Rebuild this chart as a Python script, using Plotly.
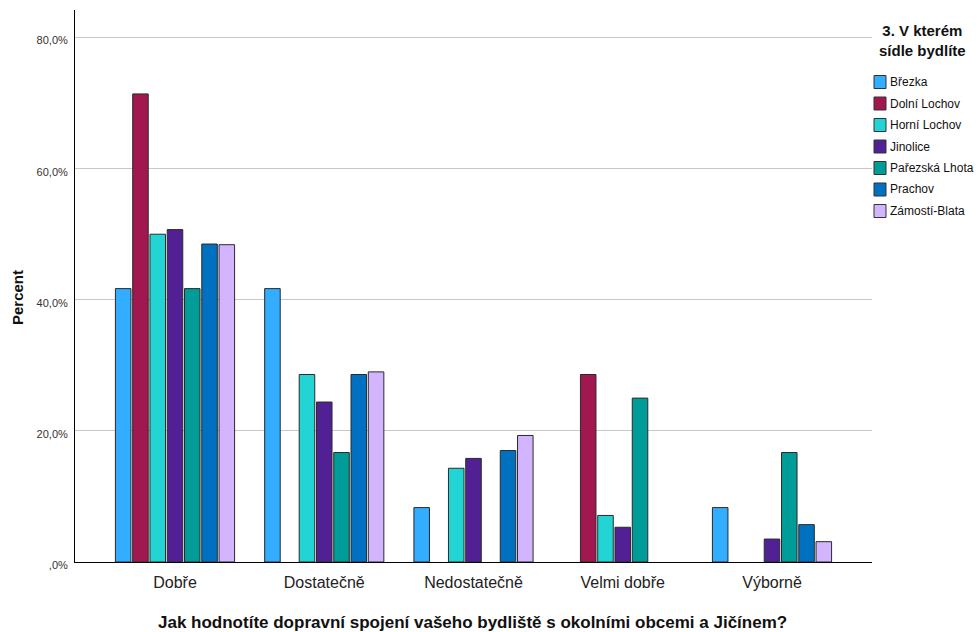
import plotly.graph_objects as go

categories = ["Dobře", "Dostatečně", "Nedostatečně", "Velmi dobře", "Výborně"]
series_names = ["Březka", "Dolní Lochov", "Horní Lochov", "Jinolice",
                "Pařezská Lhota", "Prachov", "Zámostí-Blata"]
brezka = [41.7, 41.7, 8.3, 0, 8.3]
dolni_lochov = [71.4, 0, 0, 28.6, 0]
horni_lochov = [50.0, 28.6, 14.3, 7.1, 0]
jinolice = [50.7, 24.4, 15.8, 5.3, 3.5]
parezska_lhota = [41.7, 16.7, 0, 25.0, 16.7]
prachov = [48.5, 28.6, 17.0, 0, 5.7]
zamosti_blata = [48.4, 29.0, 19.3, 0, 3.1]
colors = ["#33adff", "#a0184f", "#22d4d4", "#512095", "#009c98", "#0070c0", "#d2b4ff"]
y_tickvals = [0, 20, 40, 60, 80]
y_ticktext = [",0%", "20,0%", "40,0%", "60,0%", "80,0%"]
x_title = "Jak hodnotíte dopravní spojení vašeho bydliště s okolními obcemi a Jičínem?"
y_title = "Percent"
legend_title = "3. V kterém<br>sídle bydlíte"

all_values = [brezka, dolni_lochov, horni_lochov, jinolice,
              parezska_lhota, prachov, zamosti_blata]

FONT = "Liberation Sans, Arial, sans-serif"
W, H = 978, 632
ML, MR, MT, MB = 75, 106, 10, 70
PW, PH = W - ML - MR, H - MT - MB

def px_x(px):
    return (px - ML) / PW

def px_y(py):
    return (H - MB - py) / PH

fig = go.Figure()
for name, vals, col in zip(series_names, all_values, colors):
    fig.add_trace(go.Bar(
        x=categories,
        y=[v if v else None for v in vals],
        name=name,
        marker=dict(color=col, line=dict(color="#2a2a2a", width=1)),
        showlegend=False,
    ))

# manual legend
fig.add_annotation(
    x=px_x(922), y=px_y(40), xref="paper", yref="paper",
    text="<b>" + legend_title + "</b>", showarrow=False,
    font=dict(family=FONT, size=15, color="#111"), align="center",
    xanchor="center", yanchor="middle",
)
for i, (name, col) in enumerate(zip(series_names, colors)):
    cy = 82 + 21.5 * i
    fig.add_shape(type="rect", xref="paper", yref="paper",
                  x0=px_x(874), x1=px_x(886), y0=px_y(cy - 6.5), y1=px_y(cy + 6.5),
                  fillcolor=col, line=dict(color="#333", width=1))
    fig.add_annotation(x=px_x(888), y=px_y(cy), xref="paper", yref="paper",
                       text=name, showarrow=False, xanchor="left", yanchor="middle",
                       font=dict(family=FONT, size=12, color="#111"))

# axis titles
fig.add_annotation(x=px_x(472), y=px_y(622), xref="paper", yref="paper",
                   text="<b>" + x_title + "</b>", showarrow=False,
                   xanchor="center", yanchor="middle",
                   font=dict(family=FONT, size=17, color="#111"))
fig.add_annotation(x=px_x(17), y=px_y(298), xref="paper", yref="paper",
                   text="<b>" + y_title + "</b>", showarrow=False, textangle=-90,
                   xanchor="center", yanchor="middle",
                   font=dict(family=FONT, size=15, color="#111"))

fig.update_layout(
    width=W, height=H,
    margin=dict(l=ML, r=MR, t=MT, b=MB, autoexpand=False),
    paper_bgcolor="white", plot_bgcolor="white",
    barmode="group", bargap=0.19, bargroupgap=0.1,
    font=dict(family=FONT, color="#222"),
    showlegend=False,
)
fig.update_xaxes(
    range=[-0.67, 4.67], showline=True, linecolor="black", linewidth=1,
    ticks="", showgrid=False, tickfont=dict(size=16, color="#222"),
    ticklabelstandoff=6, automargin=False,
)
fig.update_yaxes(
    range=[0, 84.2], tickvals=y_tickvals, ticktext=y_ticktext,
    showline=True, linecolor="black", linewidth=1, ticks="",
    showgrid=True, gridcolor="#c8c8c8", gridwidth=1, zeroline=False,
    tickfont=dict(size=11, color="#333"), automargin=False,
    ticklabelstandoff=4, ticklabelshift=3,
)

fig.write_html(
    "out.html",
    config={"displayModeBar": False},
    post_script="document.body.style.margin='0';document.body.style.overflow='hidden';",
)
